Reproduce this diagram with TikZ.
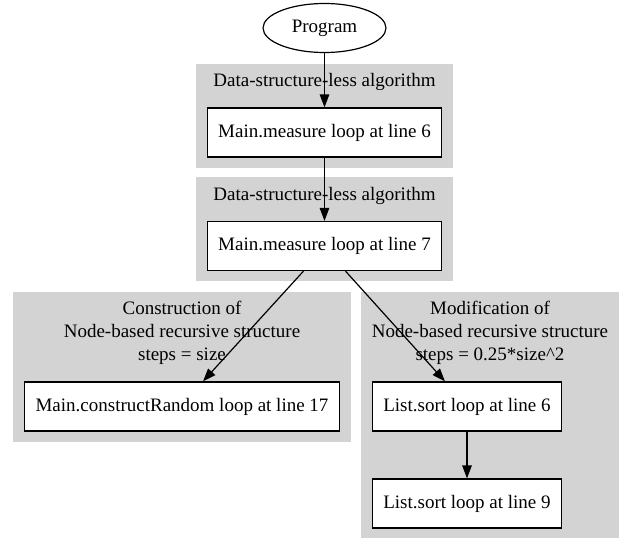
\documentclass[tikz,border=0pt]{standalone}
\usepackage{fontspec}
\setmainfont{Liberation Serif}
\usetikzlibrary{arrows.meta, shapes.geometric}
\definecolor{clustergray}{HTML}{D3D3D3}

\begin{document}
\begin{tikzpicture}
[x=1pt, y=-1pt, every node/.style={color=black, font=\fontsize{19}{23}\selectfont},
 cluster/.style={fill=clustergray, draw=none, inner sep=0pt},
 loopbox/.style={draw, fill=white, line width=1.2pt, minimum height=49pt, inner xsep=10.9pt, inner ysep=0pt},
 edge/.style={line width=1.2pt, -{Triangle[length=13pt, width=9.5pt]}}]
    \useasboundingbox (0, 0) rectangle (619, 538);
    \coordinate (p0) at (324.5, 28);
    \coordinate (m6) at (324.5, 132.5);
    \coordinate (m7) at (324.5, 246);
    \coordinate (cr) at (182, 406.5);
    \coordinate (s6) at (467, 406.5);
    \coordinate (s9) at (467, 503.5);
    % clusters
    \node[cluster, minimum width=257pt, minimum height=104pt] (c1) at (324.5, 116) {};
    \node[cluster, minimum width=257pt, minimum height=104pt] (c2) at (324.5, 229) {};
    \node[cluster, minimum width=338pt, minimum height=150pt] (c3) at (182, 367) {};
    \node[cluster, minimum width=258pt, minimum height=246pt] (c4) at (490, 415) {};
    \node (l1) at (324.5, 82) {Data-structure-less algorithm};
    \node (l2) at (324.5, 196) {Data-structure-less algorithm};
    \node[align=center] (l3) at (182, 333)
        {Construction of\\Node-based recursive structure\\steps = size};
    \node[align=center] (l4) at (490, 333)
        {Modification of\\Node-based recursive structure\\steps = 0.25*size\^{}2};
    % nodes
    \node[ellipse, draw, line width=1.2pt, minimum width=123pt, minimum height=49pt, inner sep=0pt] (prog) at (p0) {Program};
    \node[loopbox] (b1) at (m6) {Main.measure loop at line 6};
    \node[loopbox] (b2) at (m7) {Main.measure loop at line 7};
    \node[loopbox] (b3) at (cr) {Main.constructRandom loop at line 17};
    \node[loopbox] (b4) at (s6) {List.sort loop at line 6};
    \node[loopbox] (b5) at (s9) {List.sort loop at line 9};
    % edges
    \draw[edge] (prog) -- (b1);
    \draw[edge] (b1) -- (b2);
    \draw[edge] ([xshift=-21pt]b2.south) -- ([xshift=21pt]b3.north);
    \draw[edge] ([xshift=21pt]b2.south) -- ([xshift=-22pt]b4.north);
    \draw[edge] (b4) -- (b5);
\end{tikzpicture}
\end{document}
